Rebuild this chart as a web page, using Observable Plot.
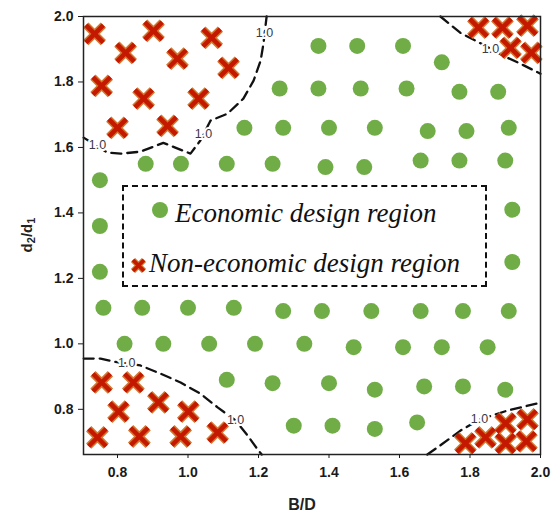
<!DOCTYPE html>
<html><head><meta charset="utf-8">
<script src="https://cdn.jsdelivr.net/npm/d3@7"></script>
<script src="https://cdn.jsdelivr.net/npm/@observablehq/plot@0.6"></script>
<style>
body{margin:0;background:#fff;}
#wrap{position:relative;width:560px;height:515px;overflow:hidden;}
#wrap svg{display:block;}
.ylab{position:absolute;left:27px;top:235px;transform:translate(-50%,-50%) rotate(-90deg);font:bold 15px Arial,"Liberation Sans",sans-serif;color:#222;white-space:nowrap;}
.ylab sub{font-size:11px;vertical-align:-3px;}
.xlab{position:absolute;left:302px;top:497px;transform:translateX(-50%);font:bold 16px Arial,"Liberation Sans",sans-serif;color:#222;line-height:16px;}
.legend{position:absolute;left:122px;top:185px;width:361px;height:98px;border:2px dashed #111;}
.leg{position:absolute;font:italic 27px "Liberation Serif","Times New Roman",serif;color:#111;white-space:nowrap;line-height:26px;}
.sym{position:absolute;}
</style></head><body>
<div id="wrap"></div>
<script>
// Economic design region points (B/D, d2/d1)
const econB = [1.37,1.48,1.61,1.72,
  1.26,1.37,1.49,1.62,1.77,1.88,
  1.16,1.27,1.40,1.53,1.68,1.79,1.91,
  0.88,0.98,1.11,1.24,1.39,1.50,1.66,1.77,1.90,
  0.75,0.75,0.75,1.92,1.92,
  0.76,0.87,1.00,1.13,1.27,1.38,1.52,1.66,1.78,1.91,
  0.82,0.93,1.06,1.19,1.33,1.47,1.61,1.72,1.85,
  1.11,1.24,1.40,1.53,1.67,1.78,1.90,
  1.30,1.41,1.53,1.65];
const econR = [1.91,1.91,1.91,1.86,
  1.78,1.78,1.78,1.78,1.77,1.77,
  1.66,1.66,1.66,1.66,1.65,1.65,1.66,
  1.55,1.55,1.55,1.55,1.54,1.54,1.56,1.56,1.56,
  1.50,1.36,1.22,1.41,1.25,
  1.11,1.11,1.11,1.11,1.10,1.10,1.10,1.10,1.10,1.10,
  1.00,1.00,1.00,1.00,1.00,0.99,0.99,0.99,0.99,
  0.89,0.88,0.88,0.86,0.87,0.87,0.86,
  0.75,0.75,0.74,0.76];
// Non-economic design region points
const nonB = [0.735,0.823,0.902,0.970,1.067,1.115,0.755,0.874,1.030,0.800,0.942,
  1.824,1.892,1.963,1.915,1.974,
  0.755,0.845,0.803,0.916,1.001,0.743,0.862,0.979,1.084,
  1.787,1.844,1.901,1.963,1.901,1.960];
const nonR = [1.947,1.889,1.956,1.871,1.935,1.843,1.788,1.749,1.749,1.660,1.666,
  1.966,1.966,1.972,1.904,1.889,
  0.882,0.882,0.793,0.821,0.793,0.714,0.717,0.717,0.729,
  0.696,0.714,0.757,0.769,0.696,0.702];
// 1.0 contour lines
const contourTL = [[0.704,1.630],[0.772,1.584],[0.809,1.581],[0.865,1.587],[0.930,1.614],[1.007,1.581],[1.035,1.621],[1.064,1.682],[1.112,1.703],[1.157,1.749],[1.186,1.804],[1.206,1.865],[1.214,1.917],[1.223,2.0]];
const contourTR = [[1.716,2.0],[1.773,1.950],[1.816,1.926],[1.906,1.874],[1.943,1.856],[2.0,1.825]];
const contourBL = [[0.704,0.955],[0.752,0.955],[0.789,0.946],[0.826,0.940],[0.865,0.934],[0.922,0.909],[0.979,0.882],[1.035,0.848],[1.084,0.806],[1.135,0.766],[1.169,0.720],[1.200,0.674],[1.209,0.662]];
const contourBR = [[1.679,0.662],[1.716,0.690],[1.773,0.735],[1.827,0.769],[1.906,0.796],[1.991,0.818],[2.0,0.821]];
const contourLabelB = [0.743,1.044,1.217,1.858,0.826,1.135,1.827];
const contourLabelR = [1.608,1.642,1.950,1.901,0.940,0.766,0.769];
const contourLabelText = "1.0";
const xTicks = [0.8,1.0,1.2,1.4,1.6,1.8,2.0];
const yTicks = [0.8,1.0,1.2,1.4,1.6,1.8,2.0];
const xLabel = "B/D";
const legendEcon = "Economic design region";
const legendNon = "Non-economic design region";

const econ = econB.map((b,i)=>({b, r: econR[i]}));
const non = nonB.map((b,i)=>({b, r: nonR[i]}));
const contours = [contourTL, contourTR, contourBL, contourBR];
const labels = contourLabelB.map((b,i)=>({b, r: contourLabelR[i]}));

const green = "#70ad47";
const dash = {x: d=>d[0], y: d=>d[1], stroke:"#111", strokeWidth:2.3, strokeDasharray:"10,6", curve:"linear"};

const chart = Plot.plot({
  width: 560, height: 515,
  marginLeft: 83, marginRight: 20, marginTop: 16, marginBottom: 61,
  x: {domain: [0.7035, 2.0]},
  y: {domain: [0.662, 2.0]},
  style: {background: "white", color: "#1a1a1a"},
  marks: [
    ...contours.map(c => Plot.line(c, dash)),
    Plot.text(labels, {x:"b", y:"r", text: ()=>contourLabelText, fill:"#3a3a48", stroke:"white", strokeWidth:4, fontSize:12.5, fontFamily:"Arial, 'Liberation Sans', sans-serif"}),
    Plot.dot(econ, {x:"b", y:"r", r:8, fill: green}),
    Plot.dot(non, {x:"b", y:"r", symbol:"times", r:8, stroke:"#d2772e", strokeWidth:7.5}),
    Plot.dot(non, {x:"b", y:"r", symbol:"times", r:8, stroke:"#c41800", strokeWidth:4.5}),
    Plot.frame({stroke:"#222", strokeWidth:1.5}),
    Plot.axisX({ticks: xTicks, tickFormat: d3.format(".1f"), tickSize:4, tickPadding:9, label:null, fontSize:14, fontWeight:"bold", fontFamily:"Arial, 'Liberation Sans', sans-serif"}),
    Plot.axisY({ticks: yTicks, tickFormat: d3.format(".1f"), tickSize:5, tickPadding:5, label:null, fontSize:14, fontWeight:"bold", fontFamily:"Arial, 'Liberation Sans', sans-serif"})
  ]
});
const wrap = document.getElementById("wrap");
wrap.appendChild(chart);

const ylab = document.createElement("div");
ylab.className = "ylab";
ylab.innerHTML = "d<sub>2</sub>/d<sub>1</sub>";
wrap.appendChild(ylab);

const xlab = document.createElement("div");
xlab.className = "xlab";
xlab.textContent = xLabel;
wrap.appendChild(xlab);

const legend = document.createElement("div");
legend.className = "legend";
legend.innerHTML =
  `<svg class="sym" style="left:27px;top:14px" width="20" height="20"><circle cx="9" cy="9" r="8" fill="${green}"/></svg>` +
  `<div class="leg" style="left:51px;top:13px">${legendEcon}</div>` +
  `<svg class="sym" style="left:5px;top:69px" width="20" height="20"><path d="M4,4L15,15M15,4L4,15" stroke="#d2772e" stroke-width="6"/><path d="M4,4L15,15M15,4L4,15" stroke="#c41800" stroke-width="3.5"/></svg>` +
  `<div class="leg" style="left:25px;top:63px">${legendNon}</div>`;
wrap.appendChild(legend);
</script>
</body></html>
